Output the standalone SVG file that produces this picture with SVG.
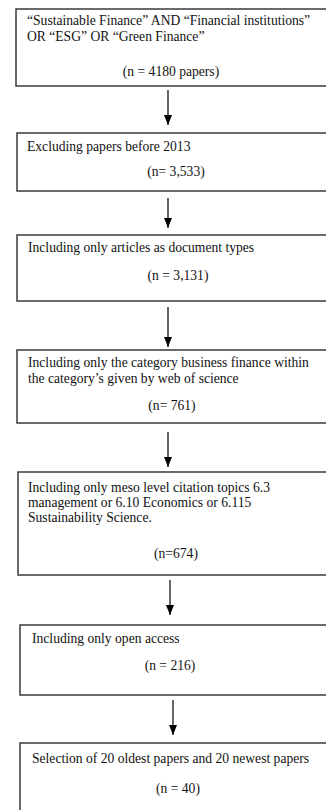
<svg xmlns="http://www.w3.org/2000/svg" width="326" height="810" viewBox="0 0 326 810">
<defs>
<style>
.box{fill:#fff;stroke:#3a3a3a;stroke-width:1.5}
.t{font-family:'Liberation Serif','Times New Roman',serif;font-size:13.6px;fill:#111}
.c{text-anchor:middle}
.conn line{stroke:#000;stroke-width:1.2}
</style>
<marker id="ah" viewBox="0 0 10 8" refX="10" refY="4" markerWidth="10" markerHeight="8" markerUnits="userSpaceOnUse" orient="auto">
<path d="M0,0 L10,4 L0,8 Z" fill="#000"/>
</marker>
</defs>
<rect width="326" height="810" fill="#fff"/>
<g id="n1">
<rect class="box" x="16" y="9" width="320" height="77"/>
<text class="t" x="27" y="25">“Sustainable Finance” AND “Financial institutions”</text>
<text class="t" x="27" y="41">OR “ESG” OR “Green Finance”</text>
<text class="t c" x="171" y="76">(n = 4180 papers)</text>
</g>
<g id="n2">
<rect class="box" x="17" y="133" width="320" height="58"/>
<text class="t" x="27" y="151">Excluding papers before 2013</text>
<text class="t c" x="176" y="176">(n= 3,533)</text>
</g>
<g id="n3">
<rect class="box" x="17" y="235" width="320" height="66"/>
<text class="t" x="28" y="252">Including only articles as document types</text>
<text class="t c" x="178" y="280">(n = 3,131)</text>
</g>
<g id="n4">
<rect class="box" x="17" y="350" width="320" height="73"/>
<text class="t" x="28" y="367">Including only the category business finance within</text>
<text class="t" x="28" y="383">the category’s given by web of science</text>
<text class="t c" x="172" y="410">(n= 761)</text>
</g>
<g id="n5">
<rect class="box" x="18" y="472" width="320" height="103"/>
<text class="t" x="28" y="492">Including only meso level citation topics 6.3</text>
<text class="t" x="28" y="507">management or 6.10 Economics or 6.115</text>
<text class="t" x="28" y="522">Sustainability Science.</text>
<text class="t c" x="176" y="558">(n=674)</text>
</g>
<g id="n6">
<rect class="box" x="20" y="625" width="320" height="70"/>
<text class="t" x="32" y="643">Including only open access</text>
<text class="t c" x="170" y="670">(n = 216)</text>
</g>
<g id="n7">
<rect class="box" x="20" y="743" width="320" height="80"/>
<text class="t" x="32" y="763">Selection of 20 oldest papers and 20 newest papers</text>
<text class="t c" x="178" y="793">(n = 40)</text>
</g>
<g id="connectors" class="conn">
<line x1="168" y1="90" x2="168" y2="125" marker-end="url(#ah)"/>
<line x1="168" y1="198" x2="168" y2="228" marker-end="url(#ah)"/>
<line x1="168" y1="307" x2="168" y2="347" marker-end="url(#ah)"/>
<line x1="168" y1="432" x2="168" y2="467" marker-end="url(#ah)"/>
<line x1="170" y1="580" x2="170" y2="615" marker-end="url(#ah)"/>
<line x1="173" y1="700" x2="173" y2="735" marker-end="url(#ah)"/>
</g>
</svg>
